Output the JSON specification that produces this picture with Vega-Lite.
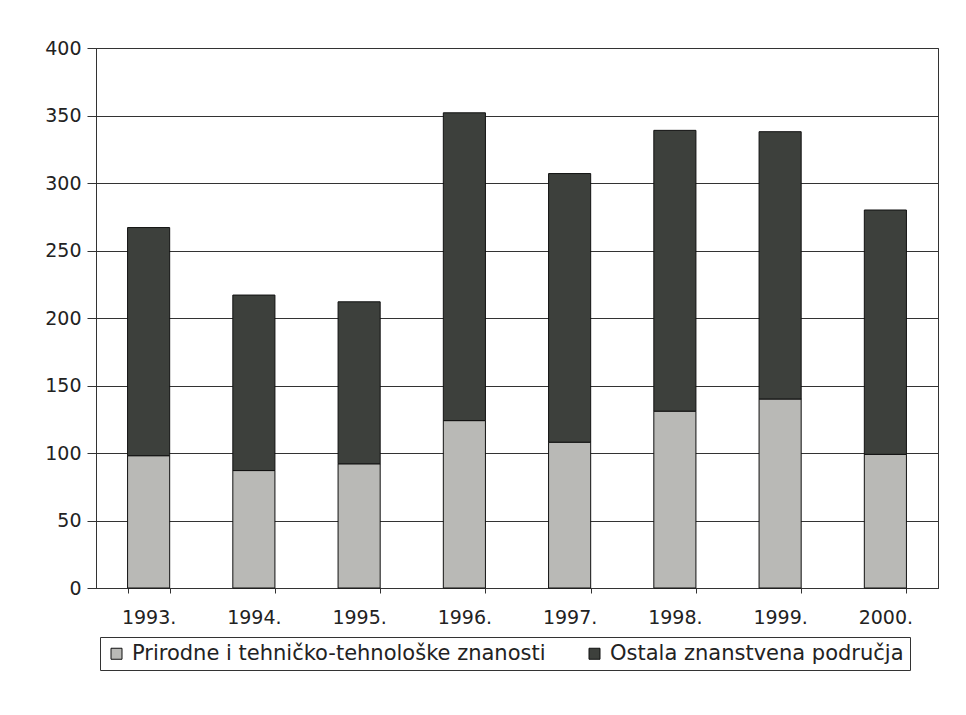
{
  "$schema": "https://vega.github.io/schema/vega-lite/v6.json",
  "width": 842,
  "height": 540,
  "autosize": {"type": "none"},
  "padding": {"left": 96, "top": 48, "right": 28, "bottom": 127},
  "background": "white",
  "data": {
    "values": [
      {"godina": "1993.", "podrucje": "Prirodne i tehničko-tehnološke znanosti", "broj": 98},
      {"godina": "1993.", "podrucje": "Ostala znanstvena područja", "broj": 169},
      {"godina": "1994.", "podrucje": "Prirodne i tehničko-tehnološke znanosti", "broj": 87},
      {"godina": "1994.", "podrucje": "Ostala znanstvena područja", "broj": 130},
      {"godina": "1995.", "podrucje": "Prirodne i tehničko-tehnološke znanosti", "broj": 92},
      {"godina": "1995.", "podrucje": "Ostala znanstvena područja", "broj": 120},
      {"godina": "1996.", "podrucje": "Prirodne i tehničko-tehnološke znanosti", "broj": 124},
      {"godina": "1996.", "podrucje": "Ostala znanstvena područja", "broj": 228},
      {"godina": "1997.", "podrucje": "Prirodne i tehničko-tehnološke znanosti", "broj": 108},
      {"godina": "1997.", "podrucje": "Ostala znanstvena područja", "broj": 199},
      {"godina": "1998.", "podrucje": "Prirodne i tehničko-tehnološke znanosti", "broj": 131},
      {"godina": "1998.", "podrucje": "Ostala znanstvena područja", "broj": 208},
      {"godina": "1999.", "podrucje": "Prirodne i tehničko-tehnološke znanosti", "broj": 140},
      {"godina": "1999.", "podrucje": "Ostala znanstvena područja", "broj": 198},
      {"godina": "2000.", "podrucje": "Prirodne i tehničko-tehnološke znanosti", "broj": 99},
      {"godina": "2000.", "podrucje": "Ostala znanstvena područja", "broj": 181}
    ]
  },
  "mark": {"type": "bar", "stroke": "#111", "strokeWidth": 1},
  "encoding": {
    "x": {
      "field": "godina",
      "type": "ordinal",
      "sort": null,
      "title": null,
      "scale": {"paddingInner": 0.6, "paddingOuter": 0.3},
      "axis": {
        "labelAngle": 0,
        "labelFontSize": 19,
        "labelFont": "DejaVu Sans",
        "labelColor": "#222",
        "labelPadding": 15,
        "tickBand": "extent",
        "tickSize": 5,
        "tickColor": "#333",
        "domainColor": "#333",
        "grid": false
      }
    },
    "y": {
      "field": "broj",
      "type": "quantitative",
      "stack": "zero",
      "title": null,
      "scale": {"domain": [0, 400], "nice": false},
      "axis": {
        "values": [0, 50, 100, 150, 200, 250, 300, 350, 400],
        "labelFontSize": 19,
        "labelFont": "DejaVu Sans",
        "labelColor": "#222",
        "labelPadding": 6,
        "tickSize": 9,
        "tickColor": "#333",
        "domainColor": "#333",
        "grid": true,
        "gridColor": "#333",
        "gridOpacity": 1,
        "gridWidth": 1
      }
    },
    "color": {
      "field": "podrucje",
      "type": "nominal",
      "title": null,
      "scale": {
        "domain": ["Prirodne i tehničko-tehnološke znanosti", "Ostala znanstvena područja"],
        "range": ["#b9b9b6", "#3d403c"]
      },
      "legend": {
        "orient": "none",
        "legendX": 4,
        "legendY": 589,
        "direction": "horizontal",
        "symbolType": "square",
        "symbolSize": 121,
        "symbolStrokeColor": "#111",
        "symbolStrokeWidth": 1,
        "labelFontSize": 21,
        "labelFont": "DejaVu Sans",
        "labelColor": "#222",
        "labelLimit": 600,
        "labelOffset": 5,
        "columnPadding": 38,
        "padding": 6,
        "strokeColor": "#333",
        "fillColor": "white"
      }
    },
    "order": {"field": "podrucje", "sort": "descending"}
  },
  "config": {
    "view": {"stroke": "#333", "strokeWidth": 1}
  }
}
